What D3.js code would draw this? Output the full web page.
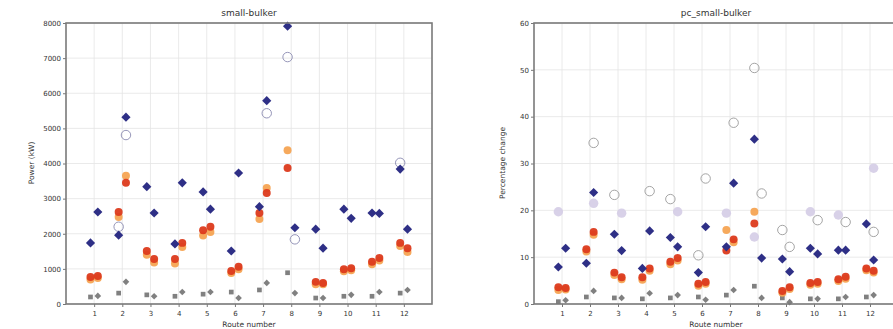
<!DOCTYPE html>
<html lang="en">
<head>
<meta charset="UTF-8">
<title>small-bulker</title>
<script src="https://d3js.org/d3.v7.min.js"></script>
<style>
    body { margin: 0; background: #fff; }
    svg text { font-family: "DejaVu Sans", sans-serif; fill: #333; }
    .tick text { font-size: 7px; }
    .tick line { stroke: #777; }
    .domain { display: none; }
    .grid line { stroke: #e4e4e4; stroke-width: 0.8; }
</style>
</head>
<body>
<script>
// Route numbers on the x axis
const routes = [1, 2, 3, 4, 5, 6, 7, 8, 9, 10, 11, 12];

// small-bulker, power in kW (A = left of route tick, B = right)
const powBlueA   = [1740, 1960, 3340, 1710, 3190, 1510, 2770, 7910, 2130, 2700, 2590, 3840];
const powBlueB   = [2620, 5320, 2590, 3450, 2700, 3730, 5790, 2170, 1590, 2440, 2580, 2130];
const powHollowA = [null, 2200, null, null, null, null, null, 7030, null, null, null, 4020];
const powHollowB = [null, 4810, null, null, null, null, 5430, 1840, null, null, null, null];
const powRedA    = [770, 2620, 1510, 1280, 2100, 940, 2590, 3870, 630, 990, 1200, 1740];
const powRedB    = [800, 3450, 1280, 1740, 2200, 1060, 3160, null, 600, 1020, 1310, 1590];
const powOrangeA = [700, 2480, 1400, 1150, 1950, 880, 2420, 4380, 560, 930, 1130, 1650];
const powOrangeB = [740, 3650, 1180, 1620, 2050, 990, 3300, null, 560, 960, 1240, 1480];
const powGrayA   = [200, 310, 260, 220, 280, 340, 400, 890, 170, 220, 220, 310];
const powGrayB   = [230, 630, 220, 340, 340, 170, 600, 310, 170, 260, 340, 400];
const powTicks   = [0, 1000, 2000, 3000, 4000, 5000, 6000, 7000, 8000];

// pc_small-bulker, percentage change
const pcBlueA    = [7.9, 8.7, 14.9, 7.6, 14.2, 6.7, 12.2, 35.2, 9.6, 11.9, 11.5, 17.1];
const pcBlueB    = [11.9, 23.8, 11.4, 15.6, 12.2, 16.5, 25.8, 9.8, 6.9, 10.7, 11.5, 9.4];
const pcHollowA  = [null, null, 23.3, null, 22.4, 10.4, null, 50.4, 15.8, null, null, null];
const pcHollowB  = [null, 34.4, null, 24.1, null, 26.8, 38.7, 23.6, 12.2, 17.9, 17.5, 15.4];
const pcLilacA   = [19.7, null, null, null, null, null, 19.4, 14.3, null, 19.7, 19.0, null];
const pcLilacB   = [null, 21.5, 19.4, null, 19.7, null, null, null, null, null, null, 29.0];
const pcRedA     = [3.6, 11.7, 6.7, 5.7, 9.0, 4.3, 11.4, 17.2, 2.8, 4.5, 5.3, 7.6];
const pcRedB     = [3.4, 15.4, 5.7, 7.6, 9.8, 4.7, 13.8, null, 3.6, 4.7, 5.8, 7.1];
const pcOrangeA  = [3.0, 11.2, 6.2, 5.2, 8.5, 3.9, 15.8, 19.7, 2.4, 4.1, 4.9, 7.2];
const pcOrangeB  = [3.1, 14.8, 5.3, 7.1, 9.3, 4.3, 13.2, null, 3.2, 4.3, 5.4, 6.7];
const pcGrayA    = [0.5, 1.5, 1.3, 1.1, 1.3, 1.5, 1.9, 3.8, 1.3, 1.1, 1.1, 1.5];
const pcGrayB    = [0.8, 2.8, 1.3, 2.3, 1.9, 0.9, 3.0, 1.3, 0.4, 1.1, 1.5, 1.9];
const pcTicks    = [0, 10, 20, 30, 40, 50, 60];

const svg = d3.select("body").append("svg")
    .attr("width", 893)
    .attr("height", 329);

// one panel: frame, grid, ticks, markers
function panel(opt) {
    const x = d3.scaleLinear().domain([0, 13]).range([opt.left, opt.right]);
    const y = d3.scaleLinear().domain([0, opt.ymax]).range([304, 23]);
    const g = svg.append("g");

    // grid
    g.append("g").attr("class", "grid")
        .selectAll("line").data(routes).join("line")
        .attr("x1", d => x(d)).attr("x2", d => x(d))
        .attr("y1", y(0)).attr("y2", y(opt.ymax));
    g.append("g").attr("class", "grid")
        .selectAll("line").data(opt.ticks).join("line")
        .attr("x1", opt.left).attr("x2", opt.right)
        .attr("y1", d => y(d)).attr("y2", d => y(d));

    // axes
    g.append("g").attr("transform", `translate(0,${y(0)})`)
        .call(d3.axisBottom(x).tickValues(routes).tickSize(3).tickPadding(4));
    g.append("g").attr("transform", `translate(${opt.left},0)`)
        .call(d3.axisLeft(y).tickValues(opt.ticks).tickFormat(d3.format("d")).tickSize(3).tickPadding(2));

    // markers; "D" is a square turned 45 degrees like matplotlib's diamond
    const dx = 0.13;
    function series(vals, side, shape, size, fill, stroke, alpha) {
        const pts = vals.map((v, i) => ({r: routes[i] + side * dx, v: v})).filter(d => d.v != null);
        const type = shape === "D" ? d3.symbolSquare : shape;
        const rot = shape === "D" ? 45 : 0;
        g.append("g").selectAll("path").data(pts).join("path")
            .attr("transform", d => `translate(${x(d.r)},${y(d.v)}) rotate(${rot})`)
            .attr("d", d3.symbol().type(type).size(size))
            .attr("fill", fill)
            .attr("stroke", stroke)
            .attr("stroke-width", 1)
            .attr("opacity", alpha);
    }
    opt.draw(series);

    // frame
    g.append("rect")
        .attr("x", opt.left).attr("y", y(opt.ymax))
        .attr("width", opt.right - opt.left).attr("height", y(0) - y(opt.ymax))
        .attr("fill", "none").attr("stroke", "#7a7a7a").attr("stroke-width", 1.6);

    // labels
    g.append("text")
        .attr("x", (opt.left + opt.right) / 2).attr("y", 16)
        .attr("text-anchor", "middle").style("font-size", "9px")
        .text(opt.title);
    g.append("text")
        .attr("x", (opt.left + opt.right) / 2).attr("y", 327)
        .attr("text-anchor", "middle").style("font-size", "7.5px")
        .text("Route number");
    g.append("text")
        .attr("transform", `translate(${opt.ylabX},163) rotate(-90)`)
        .attr("text-anchor", "middle").style("font-size", "7.5px")
        .text(opt.ylabel);
}

const S = d3.symbolCircle, Q = d3.symbolSquare;

panel({
    left: 66, right: 432, ymax: 8000, ticks: powTicks,
    title: "small-bulker", ylabel: "Power (kW)", ylabX: 34,
    draw: series => {
        series(powGrayA, -1, Q, 22, "#6a6a6a", "none", 0.85);
        series(powGrayB, 1, "D", 22, "#6a6a6a", "none", 0.85);
        series(powOrangeA, -1, S, 50, "#f5a04a", "none", 0.9);
        series(powOrangeB, 1, S, 50, "#f5a04a", "none", 0.9);
        series(powRedA, -1, S, 50, "#dc3a1c", "none", 0.95);
        series(powRedB, 1, S, 50, "#dc3a1c", "none", 0.95);
        series(powHollowA, -1, S, 70, "none", "#8a8ab0", 0.9);
        series(powHollowB, 1, S, 70, "none", "#8a8ab0", 0.9);
        series(powBlueA, -1, "D", 42, "#2e2f86", "none", 1);
        series(powBlueB, 1, "D", 42, "#2e2f86", "none", 1);
    }
});

panel({
    left: 534, right: 898, ymax: 60, ticks: pcTicks,
    title: "pc_small-bulker", ylabel: "Percentage change", ylabX: 505,
    draw: series => {
        series(pcLilacA, -1, S, 70, "#d4cce6", "none", 0.9);
        series(pcLilacB, 1, S, 70, "#d4cce6", "none", 0.9);
        series(pcHollowA, -1, S, 70, "none", "#9a9a9a", 0.9);
        series(pcHollowB, 1, S, 70, "none", "#9a9a9a", 0.9);
        series(pcGrayA, -1, Q, 22, "#6a6a6a", "none", 0.85);
        series(pcGrayB, 1, "D", 22, "#6a6a6a", "none", 0.85);
        series(pcOrangeA, -1, S, 50, "#f5a04a", "none", 0.9);
        series(pcOrangeB, 1, S, 50, "#f5a04a", "none", 0.9);
        series(pcRedA, -1, S, 50, "#dc3a1c", "none", 0.95);
        series(pcRedB, 1, S, 50, "#dc3a1c", "none", 0.95);
        series(pcBlueA, -1, "D", 42, "#2e2f86", "none", 1);
        series(pcBlueB, 1, "D", 42, "#2e2f86", "none", 1);
    }
});
</script>
</body>
</html>
